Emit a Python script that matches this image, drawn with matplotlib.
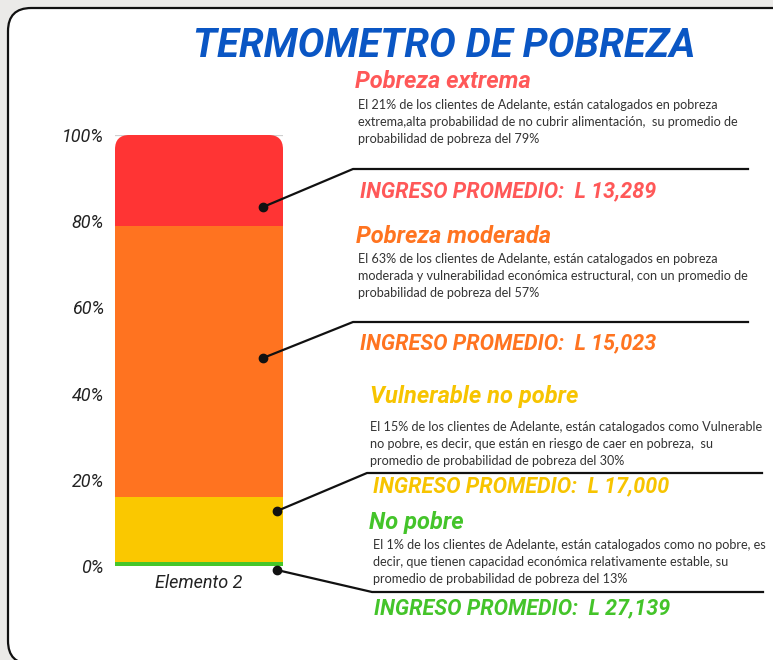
import matplotlib
matplotlib.use("Agg")
import matplotlib.pyplot as plt
from matplotlib.patches import FancyBboxPatch
from matplotlib.lines import Line2D

# ---------------- data ----------------
category = ["Elemento 2"]
segments = ["No pobre", "Vulnerable no pobre", "Pobreza moderada", "Pobreza extrema"]
values = [1, 15, 63, 21]
seg_colors = ["#46c62a", "#fac800", "#ff7320", "#ff3434"]
yticks = [0, 20, 40, 60, 80, 100]
ytick_labels = ["0%", "20%", "40%", "60%", "80%", "100%"]

title = "TERMOMETRO DE POBREZA"
headers = ["Pobreza extrema", "Pobreza moderada", "Vulnerable no pobre", "No pobre"]
header_colors = ["#ff5858", "#ff7420", "#f7c400", "#44c42a"]
descriptions = [
    "El 21% de los clientes de Adelante, están catalogados en pobreza\n"
    "extrema,alta probabilidad de no cubrir alimentación,  su promedio de\n"
    "probabilidad de pobreza del 79%",
    "El 63% de los clientes de Adelante, están catalogados en pobreza\n"
    "moderada y vulnerabilidad económica estructural, con un promedio de\n"
    "probabilidad de pobreza del 57%",
    "El 15% de los clientes de Adelante, están catalogados como Vulnerable\n"
    "no pobre, es decir, que están en riesgo de caer en pobreza,  su\n"
    "promedio de probabilidad de pobreza del 30%",
    "El 1% de los clientes de Adelante, están catalogados como no pobre, es\n"
    "decir, que tienen capacidad económica relativamente estable, su\n"
    "promedio de probabilidad de pobreza del 13%",
]
incomes = ["13,289", "15,023", "17,000", "27,139"]

# ---------------- figure ----------------
W, H = 773, 660
fig = plt.figure(figsize=(W / 100, H / 100), dpi=100)
fig.patch.set_facecolor("#ebeae8")

def fx(x):
    return x / W

def fy(y):
    return 1 - y / H

# rounded white panel
panel = FancyBboxPatch((fx(8), fy(664)), fx(800) - fx(8), fy(8) - fy(664),
                       boxstyle="round,pad=0,rounding_size=0.03",
                       mutation_aspect=W / H,
                       transform=fig.transFigure, facecolor="white",
                       edgecolor="#111111", linewidth=1.6, zorder=0)
fig.add_artist(panel)

# axes for thermometer bar
ax = fig.add_axes([fx(115), fy(566), fx(283) - fx(115), fy(135) - fy(566)])
ax.set_facecolor("none")
ax.set_xlim(-0.5, 0.5)
ax.set_ylim(0, 100)
for s in ax.spines.values():
    s.set_visible(False)

ax.axhline(100, color="#cfcfcf", lw=0.9, zorder=0)

clip = FancyBboxPatch((0, -0.2), 1, 1.2, boxstyle="round,pad=0,rounding_size=0.085",
                      mutation_aspect=(283 - 115) / (566 - 135),
                      transform=ax.transAxes, facecolor="none", edgecolor="none")
ax.add_patch(clip)

bottom = 0
for v, c in zip(values, seg_colors):
    bars = ax.bar(category, [v], bottom=bottom, width=1.0, color=c, zorder=2)
    for b in bars:
        b.set_clip_path(clip)
    bottom += v

ax.set_yticks(yticks)
ax.set_yticklabels(ytick_labels, fontsize=13, fontstyle="italic", color="#222222",
                   family="Roboto")
ax.tick_params(axis="y", length=0, pad=8)
ax.tick_params(axis="x", length=0, pad=6)
for t in ax.get_xticklabels():
    t.set_fontsize(13)
    t.set_fontstyle("italic")
    t.set_family("Roboto")
    t.set_color("#222222")

# ---------------- title ----------------
fig.text(fx(444), fy(46), title, ha="center", va="center", fontsize=28.8,
         fontweight="bold", fontstyle="italic", color="#0a56c4", family="Roboto")

# ---------------- annotation blocks ----------------
header_pos = [(355, 81), (356, 236), (370, 397), (369, 522)]
desc_pos = [(358, 99), (358, 253), (370, 421), (373, 539)]
income_pos = [(360, 191), (360, 343), (373, 486), (374, 608)]
connectors = [
    [(263, 207), (353, 169), (748, 169)],
    [(263, 358), (353, 322), (748, 322)],
    [(277, 511), (367, 473), (762, 473)],
    [(277, 570), (372, 592), (763, 592)],
]

for i in range(4):
    hx, hy = header_pos[i]
    fig.text(fx(hx), fy(hy), headers[i], ha="left", va="center", fontsize=17,
             fontweight="bold", fontstyle="italic", color=header_colors[i], family="Roboto")
    dx, dy = desc_pos[i]
    fig.text(fx(dx), fy(dy), descriptions[i], ha="left", va="top", fontsize=9.1,
             color="#333333", family="Lato", linespacing=1.52)
    ix, iy = income_pos[i]
    fig.text(fx(ix), fy(iy), "INGRESO PROMEDIO:  L " + incomes[i], ha="left", va="center",
             fontsize=15.5, fontweight="bold", fontstyle="italic", color=header_colors[i],
             family="Roboto")
    pts = connectors[i]
    fig.add_artist(Line2D([fx(p[0]) for p in pts], [fy(p[1]) for p in pts],
                          transform=fig.transFigure, color="#111111", lw=1.6, zorder=5))
    fig.add_artist(Line2D([fx(pts[0][0])], [fy(pts[0][1])], transform=fig.transFigure,
                          marker="o", markersize=6, color="#111111", zorder=6))

fig.savefig("out.png", dpi=100, facecolor=fig.get_facecolor())
